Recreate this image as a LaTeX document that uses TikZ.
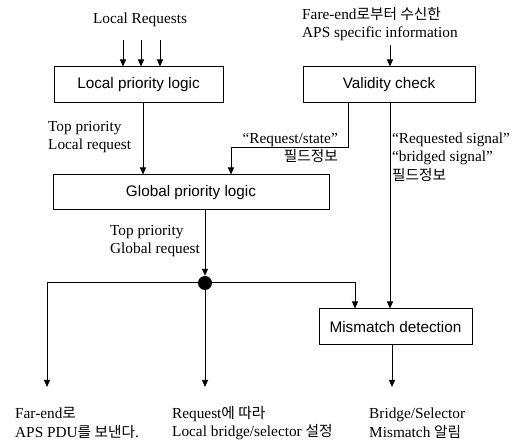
\documentclass[tikz,border=0pt]{standalone}
\usepackage{fontspec}
\setmainfont{Liberation Serif}
\setsansfont{Liberation Sans}
\newfontfamily\kr{Noto Sans CJK KR}[Scale=0.96]
\usetikzlibrary{arrows.meta}
\newcommand\K[1]{{\kr #1}}
\begin{document}
\begin{tikzpicture}[x=1pt,y=-1pt,
  box/.style={draw,line width=1pt,inner sep=0pt,font=\sffamily\fontsize{15.3}{18}\selectfont},
  lbl/.style={inner sep=0pt,font=\fontsize{15.3}{18.5}\selectfont},
  arr/.style={line width=1pt,-{Triangle[length=7pt,width=6pt]}},
  ln/.style={line width=1pt}]
\useasboundingbox[fill=white] (0,0) rectangle (517,443);
% boxes
\node[box,minimum width=169pt,minimum height=36pt] (lp) at (138.5,85) {Local priority logic};
\node[box,minimum width=172pt,minimum height=36pt] (vc) at (389,85) {Validity check};
\node[box,minimum width=276pt,minimum height=35pt] (gp) at (191,192.5) {Global priority logic};
\node[box,minimum width=153pt,minimum height=36pt] (md) at (395.5,327) {Mismatch detection};
% texts
\node[lbl] (lr) at (140,20) {Local Requests};
\node[lbl,anchor=west,align=left] (fe) at (302,24) {Fare-end\K{로부터 수신한}\\APS specific information};
\node[lbl,anchor=west,align=left] (tl) at (48,137) {Top priority\\Local request};
\node[lbl,anchor=east,align=right] (rs) at (338,148) {“Request/state”\\\K{필드정보}};
\node[lbl,anchor=west,align=left] (rq) at (392,157) {“Requested signal”\\“bridged signal”\\\K{필드정보}};
\node[lbl,anchor=east,align=left] (tg) at (200,241) {Top priority\\Global request};
\node[lbl,anchor=west,align=left] (o1) at (15,423) {Far-end\K{로}\\APS PDU\K{를 보낸다}.};
\node[lbl,anchor=west,align=left] (o2) at (172,423) {Request\K{에 따라}\\Local bridge/selector \K{설정}};
\node[lbl,anchor=west,align=left] (o3) at (369,423) {Bridge/Selector\\Mismatch \K{알림}};
% coordinates
\coordinate (r1) at (123,40);
\coordinate (r2) at (141,40);
\coordinate (r3) at (160,40);
\coordinate (fa) at (390,45);
\coordinate (xl) at (143,0);
\coordinate (xs) at (348,0);
\coordinate (xr) at (390,0);
\coordinate (b1) at (348,148);
\coordinate (b2) at (231,148);
\coordinate (xg) at (205,0);
\node[circle,fill=black,inner sep=0pt,minimum size=14pt] (dot) at (205,283) {};
\coordinate (lc) at (47,283);
\coordinate (le) at (47,387);
\coordinate (me) at (205,387);
\coordinate (rc) at (355,283);
\coordinate (xm) at (392,0);
\coordinate (re) at (392,387);
% connectors
\foreach \r in {r1,r2,r3} \draw[arr] (\r) -- (\r |- lp.north);
\draw[arr] (fa) -- (fa |- vc.north);
\draw[arr] (lp.south -| xl) -- (xl |- gp.north);
\draw[arr] (vc.south -| xs) -- (b1) -- (b2) -- (b2 |- gp.north);
\draw[arr] (vc.south -| xr) -- (xr |- md.north);
\draw[arr] (gp.south -| xg) -- (dot.north);
\draw[arr] (dot) -- (lc) -- (le);
\draw[arr] (dot) -- (me);
\draw[arr] (dot) -- (rc) -- (rc |- md.north);
\draw[arr] (md.south -| xm) -- (re);
\end{tikzpicture}
\end{document}
